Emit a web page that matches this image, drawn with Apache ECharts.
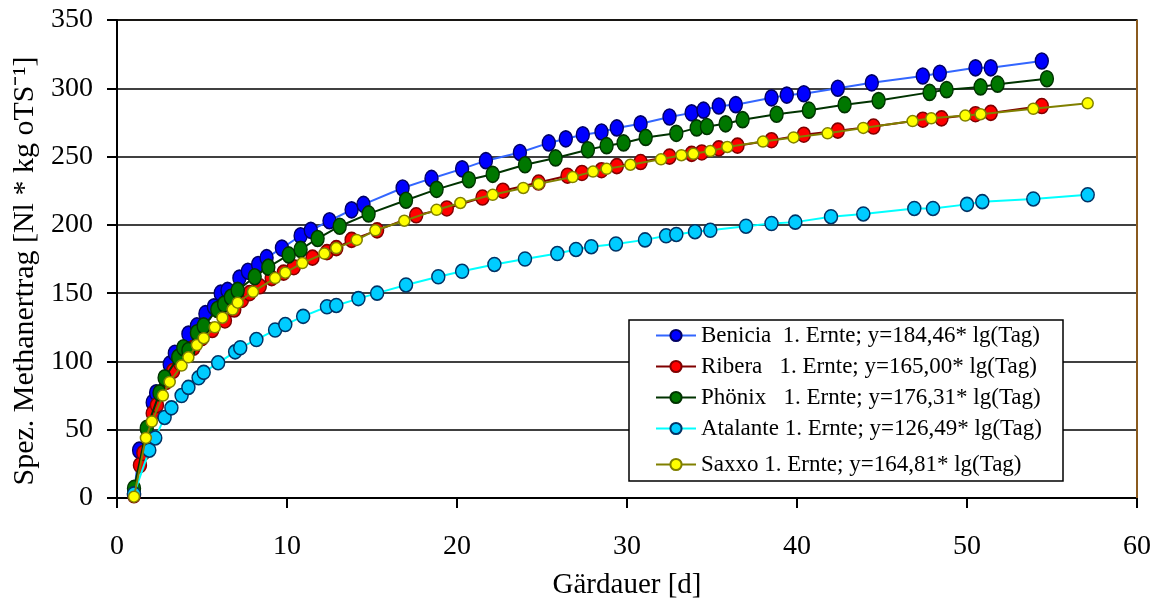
<!DOCTYPE html>
<html><head><meta charset="utf-8">
<script src="https://cdn.jsdelivr.net/npm/echarts@6/dist/echarts.min.js"></script>
<style>html,body{margin:0;padding:0;background:#fff}#c{width:1158px;height:603px}</style>
</head><body><div id="c"></div>
<script>
const xTicks = [0,10,20,30,40,50,60];
const yTicks = [0,50,100,150,200,250,300,350];

const beniciaDays = [1.0,1.3,2.1,2.3,3.1,3.4,4.2,4.7,5.2,5.7,6.1,6.5,7.2,7.7,8.3,8.8,9.7,10.8,11.4,12.5,13.8,14.5,16.8,18.5,20.3,21.7,23.7,25.4,26.4,27.4,28.5,29.4,30.8,32.5,33.8,34.5,35.4,36.4,38.5,39.4,40.4,42.4,44.4,47.4,48.4,50.5,51.4,54.4];
const beniciaVals = [3,35,70,77,98,106,120,126,135,140,150,152,161,166,171,176,183,192,196,203,211,215,227,234,241,247,253,260,263,266,268,271,274,279,282,284,287,288,293,295,296,300,304,309,311,315,315,320];

const riberaDays = [1.0,1.35,1.55,2.1,2.35,2.9,3.3,3.7,4.5,5.0,5.6,6.35,6.9,7.35,7.8,8.4,9.1,9.8,10.4,11.5,12.35,12.9,13.8,15.3,17.6,19.4,21.5,22.7,24.8,26.5,27.35,28.5,29.4,30.8,32.5,33.8,34.4,35.4,36.5,38.5,40.4,42.4,44.5,47.4,48.5,50.5,51.4,54.4];
const riberaVals = [2,24,33,62,68,85,93,99,110,117,123,130,138,145,150,155,161,165,169,176,180,183,189,196,207,212,220,225,231,236,238,240,243,246,250,252,253,256,258,262,266,269,272,277,278,281,282,287];

const phoenixDays = [1.0,1.75,2.5,2.8,3.6,3.9,4.2,4.7,5.1,5.9,6.3,6.7,7.1,8.1,8.9,10.1,10.8,11.8,13.1,14.8,17.0,18.8,20.7,22.1,24.0,25.8,27.7,28.8,29.8,31.1,32.9,34.1,34.7,35.8,36.8,38.8,40.7,42.8,44.8,47.8,48.8,50.8,51.8,54.7];
const phoenixVals = [7,51,77,88,103,110,108,121,126,138,142,147,152,162,169,178,182,190,199,208,218,226,233,237,244,249,255,258,260,264,267,271,272,274,277,281,284,288,291,297,299,301,303,307];

const atalanteDays = [1.0,1.9,2.25,2.8,3.2,3.8,4.2,4.8,5.1,5.95,6.95,7.25,8.2,9.3,9.9,10.95,12.35,12.9,14.2,15.3,17.0,18.9,20.3,22.2,24.0,25.9,27.0,27.9,29.35,31.06,32.3,32.9,34.0,34.9,37.0,38.5,39.9,42.0,43.9,46.9,48.0,50.0,50.9,53.9,57.1];
const atalanteVals = [3,35,44,59,66,75,81,88,92,99,107,110,116,123,127,133,140,141,146,150,156,162,166,171,175,179,182,184,186,189,192,193,195,196,199,201,202,206,208,212,212,215,217,219,222];

const saxxoDays = [1.0,1.7,2.05,2.7,3.1,3.8,4.2,4.7,5.1,5.75,6.2,6.8,7.1,8.0,9.3,9.9,10.9,12.2,12.9,14.1,15.2,16.9,18.8,20.2,22.1,23.9,24.8,26.8,28.0,28.8,30.2,32.0,33.2,33.9,34.9,35.9,38.0,39.8,41.8,43.9,46.8,47.9,49.9,50.8,53.9,57.1];
const saxxoVals = [1,44,56,75,85,97,103,112,117,125,132,138,143,151,161,165,172,179,183,189,196,203,211,216,222,227,230,235,239,241,244,248,251,252,254,257,261,264,267,271,276,278,280,281,285,289];

const seriesNames = [
  'Benicia  1. Ernte; y=184,46* lg(Tag)',
  'Ribera   1. Ernte; y=165,00* lg(Tag)',
  'Phönix   1. Ernte; y=176,31* lg(Tag)',
  'Atalante 1. Ernte; y=126,49* lg(Tag)',
  'Saxxo 1. Ernte; y=164,81* lg(Tag)'
];

const pair = (d, v) => d.map((x, i) => [x, v[i]]);
const FONT = 'Liberation Serif, Times New Roman, serif';

const styles = [
  {line:'#3366ff', fill:'#0000ff', border:'#000066', size:[13,16]},
  {line:'#800000', fill:'#ff0000', border:'#800000', size:[13,15]},
  {line:'#003300', fill:'#007700', border:'#003300', size:[13,16]},
  {line:'#00ffff', fill:'#00ccff', border:'#003366', size:[13,14]},
  {line:'#808000', fill:'#ffff00', border:'#808000', size:[11,11]}
];
const dataSets = [
  pair(beniciaDays, beniciaVals),
  pair(riberaDays, riberaVals),
  pair(phoenixDays, phoenixVals),
  pair(atalanteDays, atalanteVals),
  pair(saxxoDays, saxxoVals)
];

const series = dataSets.map((d, i) => ({
  name: seriesNames[i],
  type: 'line',
  data: d,
  symbol: 'circle',
  symbolSize: styles[i].size,
  showSymbol: true,
  animation: false,
  lineStyle: {color: styles[i].line, width: 2},
  itemStyle: {color: styles[i].fill, borderColor: styles[i].border, borderWidth: 1.5},
  z: 2 + i
}));

const chart = echarts.init(document.getElementById('c'));
chart.setOption({
  animation: false,
  backgroundColor: '#fff',
  grid: {left: 117, right: 21, top: 20, bottom: 105, show: true, borderColor: '#2e2010', borderWidth: 1.5,
         containLabel: false, outerBoundsMode: 'none'},
  xAxis: {
    type: 'value', min: xTicks[0], max: xTicks[xTicks.length-1], interval: 10,
    name: 'Gärdauer [d]', nameLocation: 'middle', nameGap: 73,
    nameTextStyle: {fontFamily: FONT, fontSize: 29, color: '#000'},
    axisLine: {onZero: false, lineStyle: {color: '#000', width: 2}},
    axisTick: {show: true, inside: false, length: 10, lineStyle: {color: '#000', width: 2}},
    axisLabel: {margin: 35, fontFamily: FONT, fontSize: 28, color: '#000'},
    splitLine: {show: false}
  },
  yAxis: {
    type: 'value', min: yTicks[0], max: yTicks[yTicks.length-1], interval: 50,
    name: 'Spez. Methanertrag [Nl * kg oTS\u207B\u00B9]', nameLocation: 'middle', nameGap: 76,
    nameTextStyle: {fontFamily: FONT, fontSize: 30, color: '#000', padding: [0, 24, 0, 0]},
    axisLine: {onZero: false, lineStyle: {color: '#000', width: 2}},
    axisTick: {show: true, inside: false, length: 10, lineStyle: {color: '#000', width: 2}},
    axisLabel: {margin: 24, fontFamily: FONT, fontSize: 28, color: '#000'},
    splitLine: {show: true, lineStyle: {color: '#000', width: 1.5}}
  },
  graphic: [
    {type: 'rect', z: 10, shape: {x: 629, y: 320, width: 434, height: 161},
     style: {fill: '#fff', stroke: '#000', lineWidth: 1.5}},
    {type: 'line', z: 10, shape: {x1: 1137, y1: 20, x2: 1137, y2: 498},
     style: {stroke: '#8a5a1e', lineWidth: 2}}
  ],
  legend: [
    {data: seriesNames.slice(0, 4), orient: 'vertical', left: 655, top: 323, padding: 0,
     itemWidth: 40, itemHeight: 14, itemGap: 6, z: 20,
     textStyle: {fontFamily: FONT, fontSize: 23, color: '#000', lineHeight: 25}},
    {data: seriesNames.slice(4), orient: 'vertical', left: 655, top: 452, padding: 0,
     itemWidth: 40, itemHeight: 14, itemGap: 6, z: 20,
     textStyle: {fontFamily: FONT, fontSize: 23, color: '#000', lineHeight: 25}}
  ],
  series: series
});
</script></body></html>
